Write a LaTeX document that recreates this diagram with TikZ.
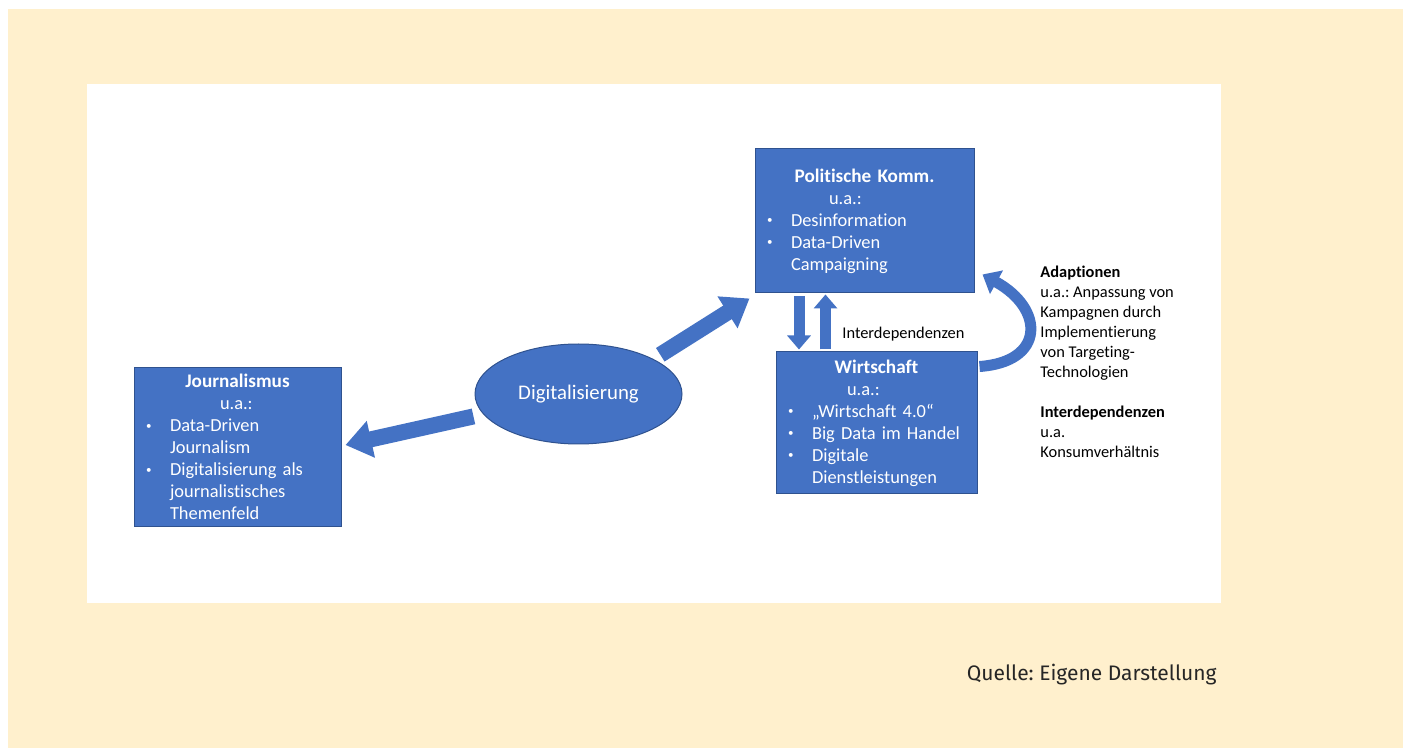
\documentclass[tikz,border=0pt]{standalone}
\usepackage{fontspec}
\setmainfont[Ligatures=NoCommon]{Carlito}
\newfontfamily\quellefont{Fira Sans}
\usetikzlibrary{arrows.meta, positioning, shapes.geometric, calc}
\frenchspacing

\definecolor{cream}{HTML}{FFF0CD}
\definecolor{boxblue}{HTML}{4472C4}
\definecolor{boxline}{HTML}{2F528F}

% box contents
\newcommand{\boxtitle}[1]{\hbox to\hsize{\hfil\fontsize{9.6}{11}\selectfont\bfseries #1\hfil}}
\newcommand{\bul}{\makebox[13pt][l]{\hspace{1pt}\raisebox{1.2pt}{\fontsize{5.5}{6}\selectfont\textbullet}}}
\newcommand{\ind}{\hspace*{13pt}}

\tikzset{
  infobox/.style={draw=boxline, fill=boxblue, text=white, line width=0.5pt, inner xsep=5pt, inner ysep=0pt, align=left, font=\fontsize{9.2}{11}\selectfont},
  bigarrow/.style={line width=8pt, boxblue, -{Triangle[length=13pt, width=18pt]}},
  smallarrow/.style={line width=5.5pt, boxblue, -{Triangle[length=7pt, width=11.5pt]}},
  curvearrow/.style={line width=5.5pt, boxblue, -{Triangle[length=8pt, width=13pt]}},
  sidetext/.style={inner sep=0pt, align=left, font=\fontsize{8.2}{9.95}\selectfont}
}

\begin{document}
\begin{tikzpicture}[x=0.5pt, y=-0.5pt]
  \useasboundingbox (0,0) rectangle (1403,748);
  % background
  \fill[cream] (8,9) rectangle (1403,748);
  \fill[white] (87,84) rectangle (1221,603);

  % boxes
  \node[infobox, minimum width=109.5pt, minimum height=72pt, text width=99.5pt] (pol) at (864.5,221)
    {\boxtitle{Politische Komm.}\\\hspace*{32pt}u.a.:\\\bul Desinformation\\\bul Data-Driven\\\ind Campaigning};
  \node[infobox, minimum width=100.5pt, minimum height=71pt, text width=90.5pt] (wir) at (876.5,423)
    {\boxtitle{Wirtschaft}\\\hspace*{30.5pt}u.a.:\\\bul „Wirtschaft 4.0“\\\bul Big Data im Handel\\\bul Digitale\\\ind Dienstleistungen};
  \node[infobox, minimum width=103.5pt, minimum height=79pt, text width=93.5pt] (jour) at (237.5,447)
    {\boxtitle{Journalismus}\\\hspace*{38pt}u.a.:\\\bul Data-Driven\\\ind Journalism\\\bul Digitalisierung als\\\ind journalistisches\\\ind Themenfeld};

  % centre
  \node[ellipse, draw=boxline, fill=boxblue, text=white, line width=0.5pt, minimum width=103.5pt, minimum height=50pt, inner sep=0pt, font=\fontsize{10.4}{12}\selectfont] (dig) at (578.5,394) {Digitalisierung};

  % arrows
  \draw[bigarrow, shorten <=5pt] (dig.192) -- ($(jour.east)+(4,-2)$);
  \draw[bigarrow, shorten <=4pt] (dig.25) -- ($(pol.south west)+(-5,5)$);
  \draw[smallarrow] ($(pol.south west)+(44.5,3)$) -- ($(wir.north west)+(23.5,-2)$);
  \draw[smallarrow] ($(wir.north west)+(50,-2)$) -- ($(pol.south west)+(71,1)$);
  \draw[curvearrow] ($(wir.north east)+(2,15)$) .. controls (1045,362) and (1045,309) .. ($(pol.south east)+(8,-19)$);

  % labels
  \node[sidetext, anchor=base west] (interlbl) at (842,339) {Interdependenzen};
  \node[sidetext, anchor=north west] (notes) at (1040,266)
    {\textbf{Adaptionen}\\u.a.: Anpassung von\\Kampagnen durch\\Implementierung\\von Targeting-\\Technologien\\[9.95pt]\textbf{Interdependenzen}\\u.a.\\Konsumverhältnis};
  \node[anchor=base east, inner sep=0pt, font=\quellefont\fontsize{10.5}{12}\selectfont, text=black!85] (quelle) at (1217,680) {Quelle: Eigene Darstellung};
\end{tikzpicture}
\end{document}
